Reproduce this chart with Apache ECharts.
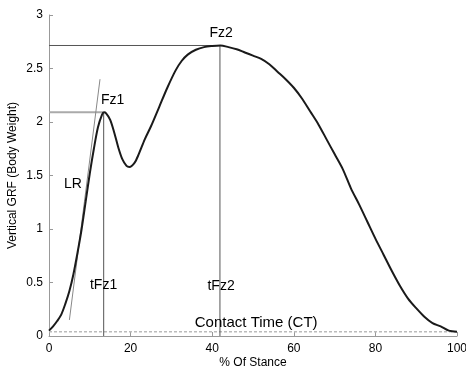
<!DOCTYPE html>
<html><head><meta charset="utf-8">
<script src="https://cdn.jsdelivr.net/npm/echarts@6/dist/echarts.min.js"></script>
<style>html,body{margin:0;padding:0;background:#fff}#c{width:466px;height:368px}</style>
</head><body><div id="c"></div>
<script>
// % of stance
const stance = [0,1,2,3,4,5,6,7,8,9,10,11,12,13,13.5,14,15,16,17,18,19,19.7,21,22,23.5,25,27,29,31,32.5,34,36,38,40,42,44,46,48,50,52,54,56,58,60,62,64,66,68,70,72,74,76,78,80,82,84,86,88,90,92,94,96,98,100];
// vertical GRF (body weight)
const grf = [0.05,0.09,0.14,0.20,0.30,0.42,0.58,0.78,1.00,1.26,1.52,1.75,1.95,2.07,2.09,2.08,2.02,1.90,1.76,1.65,1.59,1.58,1.62,1.70,1.84,1.96,2.14,2.32,2.48,2.57,2.63,2.675,2.70,2.71,2.715,2.70,2.68,2.65,2.62,2.59,2.54,2.47,2.40,2.32,2.22,2.10,1.98,1.84,1.70,1.56,1.38,1.23,1.07,0.91,0.76,0.61,0.47,0.35,0.26,0.18,0.12,0.09,0.05,0.04];
const fz1 = [13.4, 2.09];
const fz2 = [41.9, 2.715];
const lrLine = [[5.0, 0.15], [12.5, 2.40]];
const contactY = 0.04;
const labels = [
  {name: 'Fz1', x: 15.7, y: 2.20},
  {name: 'Fz2', x: 42.3, y: 2.83},
  {name: 'tFz1', x: 13.5, y: 0.47},
  {name: 'tFz2', x: 42.3, y: 0.46},
  {name: 'LR', x: 6.0, y: 1.41},
  {name: 'Contact Time (CT)', x: 50.9, y: 0.12}
];
const xTicks = [0,20,40,60,80,100];
const yTicks = [0,0.5,1,1.5,2,2.5,3];

const font = 'Liberation Sans, Arial, Helvetica, sans-serif';
const chart = echarts.init(document.getElementById('c'), null, {renderer: 'canvas'});
const thin = (data, color, width, type) => ({
  type: 'line', data: data, symbol: 'none', silent: true, z: 1,
  lineStyle: {color: color, width: width, type: type || 'solid'}
});
chart.setOption({
  animation: false,
  grid: {left: 49, right: 9, top: 15, bottom: 32, containLabel: false, outerBoundsMode: 'none'},
  xAxis: {
    type: 'value', min: 0, max: 100, interval: 20,
    name: '% Of Stance', nameLocation: 'middle', nameGap: 21, nameMoveOverlap: false,
    nameTextStyle: {fontFamily: font, fontSize: 12, color: '#000'},
    axisLine: {lineStyle: {color: '#999', width: 1}},
    axisTick: {inside: true, length: 4, lineStyle: {color: '#999'}},
    axisLabel: {fontFamily: font, fontSize: 12, color: '#000', margin: 7,
      formatter: v => xTicks.includes(v) ? String(v) : ''},
    splitLine: {show: false}
  },
  yAxis: {
    type: 'value', min: 0, max: 3, interval: 0.5,
    name: 'Vertical GRF (Body Weight)', nameLocation: 'middle', nameGap: 30, nameMoveOverlap: false,
    nameTextStyle: {fontFamily: font, fontSize: 12, color: '#000'},
    axisLine: {show: true, lineStyle: {color: '#999', width: 1}},
    axisTick: {show: true, inside: true, length: 4, lineStyle: {color: '#999'}},
    axisLabel: {fontFamily: font, fontSize: 12, color: '#000', margin: 6,
      formatter: v => yTicks.includes(v) ? String(v) : ''},
    splitLine: {show: false}
  },
  series: [
    thin([[0, contactY], [100, contactY]], '#bbb', 1.5, [3, 2]),
    thin([[0, fz1[1]], fz1], '#aaa', 2),
    thin([[fz1[0], 0], fz1], '#555', 1),
    thin([[0, fz2[1]], fz2], '#555', 1),
    thin([[fz2[0], 0], fz2], '#555', 1),
    thin(lrLine, '#888', 1),
    {
      type: 'line', data: stance.map((x, i) => [x, grf[i]]), symbol: 'none',
      smooth: 0.3, z: 3, lineStyle: {color: '#1a1a1a', width: 2}
    },
    {
      type: 'scatter', symbolSize: 1, z: 4, silent: true,
      itemStyle: {color: '#fff', opacity: 0},
      data: labels.map(l => ({name: l.name, value: [l.x, l.y],
        label: {fontSize: l.name.length > 5 ? 15 : 14}})),
      label: {show: true, position: [0, 0], align: 'center', verticalAlign: 'middle',
        formatter: p => p.name, opacity: 1,
        fontFamily: font, fontSize: 14, color: '#000',
        textBorderWidth: 0, textBorderColor: 'transparent'}
    }
  ]
});
</script></body></html>
